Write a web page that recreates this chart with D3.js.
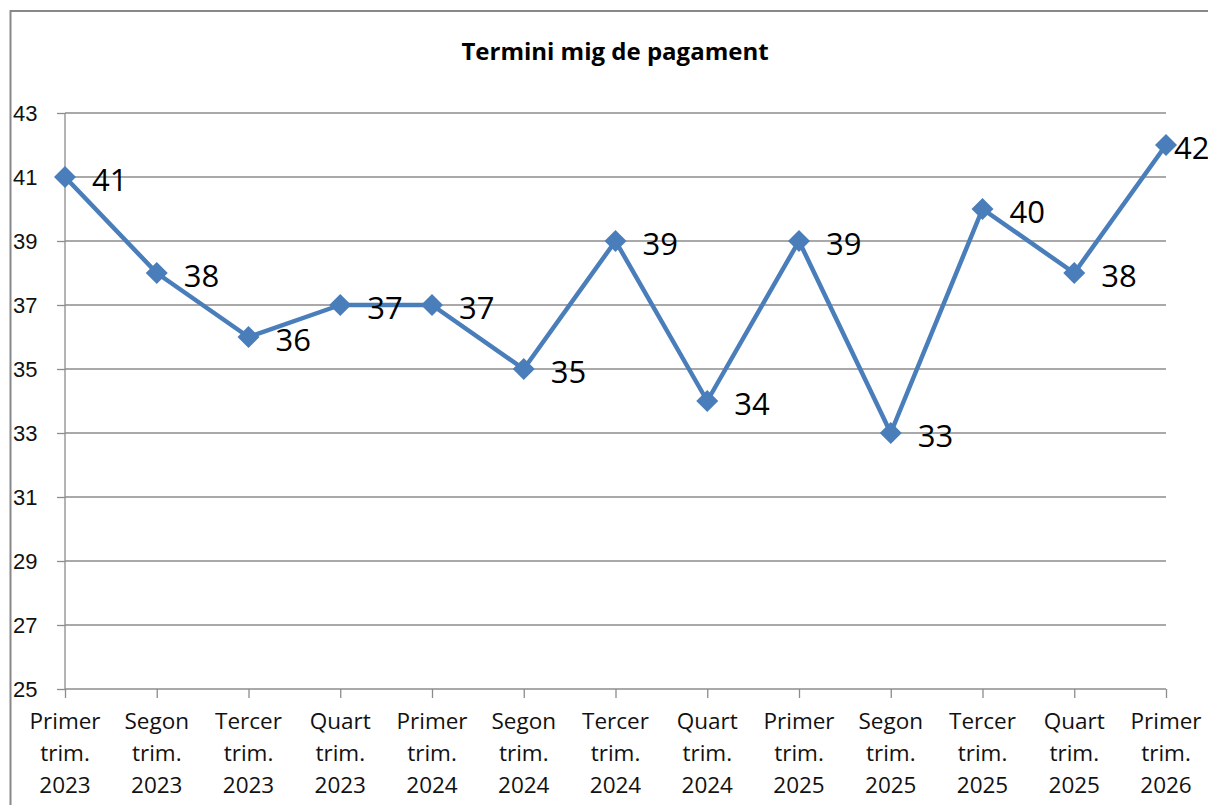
<!DOCTYPE html>
<html>
<head>
<meta charset="utf-8">
<script src="https://cdn.jsdelivr.net/npm/d3@7"></script>
<style>
  body { margin: 0; background: #fff; }
  svg { display: block; font-family: "Open Sans", "Noto Sans", sans-serif; }
</style>
</head>
<body>
<div id="chart"></div>
<script>
var quarters = ["Primer", "Segon", "Tercer", "Quart", "Primer", "Segon", "Tercer", "Quart", "Primer", "Segon", "Tercer", "Quart", "Primer"];
var years = ["2023", "2023", "2023", "2023", "2024", "2024", "2024", "2024", "2025", "2025", "2025", "2025", "2026"];
var values = [41, 38, 36, 37, 37, 35, 39, 34, 39, 33, 40, 38, 42];
var yTicks = [25, 27, 29, 31, 33, 35, 37, 39, 41, 43];
var title = "Termini mig de pagament";

var fullWidth = 1208,
    fullHeight = 805,
    margin = {top: 113, right: 42, bottom: 116, left: 65},
    width = fullWidth - margin.left - margin.right,
    height = fullHeight - margin.top - margin.bottom;

var blue = "#4a7ebb";

var svg = d3.select("#chart")
    .append("svg")
    .attr("width", fullWidth)
    .attr("height", fullHeight);

// chart border (cropped at right / bottom like the reference)
svg.append("rect")
    .attr("x", 10.5)
    .attr("y", 11)
    .attr("width", fullWidth + 20)
    .attr("height", fullHeight + 20)
    .attr("fill", "#fff")
    .attr("stroke", "#888")
    .attr("stroke-width", 2);

svg.append("text")
    .attr("x", 615)
    .attr("y", 60)
    .attr("text-anchor", "middle")
    .style("font-weight", "bold")
    .style("font-size", "24px")
    .text(title);

var g = svg.append("g")
    .attr("transform", "translate(" + margin.left + "," + margin.top + ")");

var idx = d3.range(values.length);

var xScale = d3.scalePoint()
    .domain(idx)
    .range([0, width]);

var yScale = d3.scaleLinear()
    .domain([25, 43])
    .range([height, 0]);

// gridlines
g.append("g")
    .selectAll("line")
    .data(yTicks.slice(1))
    .enter()
    .append("line")
    .attr("x1", 0)
    .attr("x2", width)
    .attr("y1", function(d) { return yScale(d); })
    .attr("y2", function(d) { return yScale(d); })
    .attr("stroke", "#8c8c8c")
    .attr("stroke-width", 1.3);

// y axis
var yAxis = g.append("g")
    .call(d3.axisLeft(yScale).tickValues(yTicks).tickSize(8));
yAxis.selectAll("line, path").attr("stroke", "#8c8c8c").attr("stroke-width", 1.3);
yAxis.select(".domain").attr("d", "M0," + height + "V0");
yAxis.selectAll("text")
    .attr("text-anchor", "start")
    .attr("x", -52)
    .attr("dy", "0.36em")
    .style("font-size", "22px")
    .style("fill", "#111")
    .attr("font-family", null);

// x axis
var xAxis = g.append("g")
    .attr("transform", "translate(0," + height + ")")
    .call(d3.axisBottom(xScale).tickSize(9).tickFormat(""));
xAxis.selectAll("line, path").attr("stroke", "#8c8c8c").attr("stroke-width", 1.3);
xAxis.select(".domain").attr("d", "M0,0H" + width);

var xLabels = g.append("g")
    .selectAll("text")
    .data(idx)
    .enter()
    .append("text")
    .attr("text-anchor", "middle")
    .attr("transform", function(d) { return "translate(" + xScale(d) + "," + (height + 40) + ")"; })
    .style("font-size", "22.5px")
    .style("fill", "#111");
xLabels.append("tspan").attr("x", 0).attr("dy", 0).text(function(d) { return quarters[d]; });
xLabels.append("tspan").attr("x", 0).attr("dy", 32).text("trim.");
xLabels.append("tspan").attr("x", 0).attr("dy", 32).text(function(d) { return years[d]; });

// line
var line = d3.line()
    .x(function(d) { return xScale(d); })
    .y(function(d) { return yScale(values[d]); });

g.append("path")
    .datum(idx)
    .attr("d", line)
    .attr("fill", "none")
    .attr("stroke", blue)
    .attr("stroke-width", 4.5)
    .attr("stroke-linejoin", "round");

// diamond markers
g.selectAll(".marker")
    .data(idx)
    .enter()
    .append("path")
    .attr("class", "marker")
    .attr("d", "M0,-11L11,0L0,11L-11,0Z")
    .attr("transform", function(d) { return "translate(" + xScale(d) + "," + yScale(values[d]) + ")"; })
    .attr("fill", blue);

// data labels (the last one is squeezed against the right edge, as in the original)
var last = values.length - 1;
g.selectAll(".dlabel")
    .data(idx)
    .enter()
    .append("text")
    .attr("class", "dlabel")
    .attr("x", function(d) { return xScale(d) + (d === last ? 8 : 27); })
    .attr("y", function(d) { return yScale(values[d]) + 14; })
    .style("font-size", "31px")
    .style("fill", "#000")
    .text(function(d) { return values[d]; });
</script>
</body>
</html>
